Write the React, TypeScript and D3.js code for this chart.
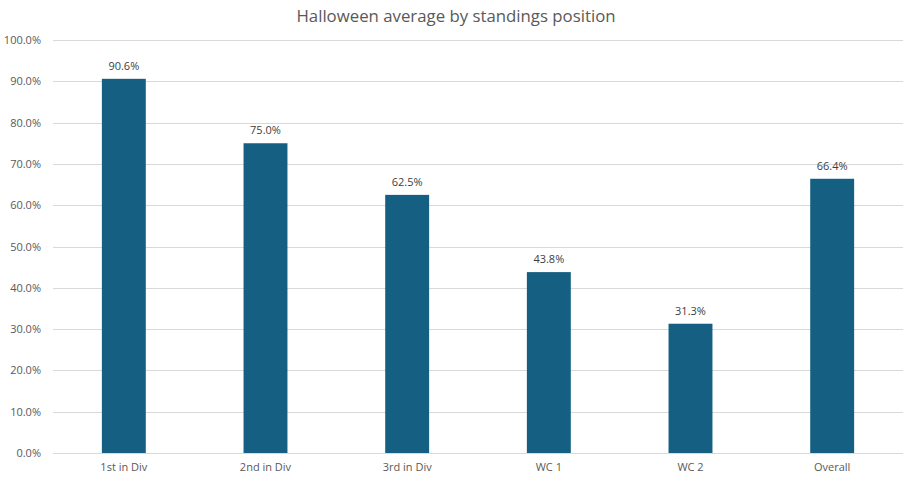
import React from "react";
import * as d3 from "d3";

const categories = ["1st in Div", "2nd in Div", "3rd in Div", "WC 1", "WC 2", "Overall"];
const values = [90.6, 75.0, 62.5, 43.8, 31.3, 66.4];
const yTicks = [0, 10, 20, 30, 40, 50, 60, 70, 80, 90, 100];
const title = "Halloween average by standings position";

const W = 912;
const H = 478;
const M = { left: 53, right: 9, top: 40, bottom: 25 };
const FONT = "'Open Sans', 'Liberation Sans', sans-serif";
const TEXT = "#595959";

export default function App() {
  const x = d3
    .scaleBand<string>()
    .domain(categories)
    .range([M.left, W - M.right])
    .paddingInner(0.69)
    .paddingOuter(0.345);
  const y = d3.scaleLinear().domain([0, 100]).range([H - M.bottom, M.top]);
  const fmt = (v: number) => v.toFixed(1) + "%";

  return (
    <svg
      width={W}
      height={H}
      style={{ position: "absolute", left: 0, top: 0, background: "#fff" }}
      fontFamily={FONT}
    >
      <text x={W / 2} y={22} textAnchor="middle" fontSize={16.8} fill={TEXT}>
        {title}
      </text>
      {yTicks.map((t) => (
        <g key={t}>
          <line
            x1={M.left}
            x2={W - M.right}
            y1={Math.round(y(t)) + 0.5}
            y2={Math.round(y(t)) + 0.5}
            stroke="#d9d9d9"
            strokeWidth={1}
          />
          <text x={41} y={y(t) + 4} textAnchor="end" fontSize={11} fill={TEXT}>
            {fmt(t)}
          </text>
        </g>
      ))}
      {categories.map((c, i) => (
        <g key={c}>
          <rect
            x={x(c)}
            y={y(values[i])}
            width={x.bandwidth()}
            height={y(0) - y(values[i])}
            fill="#156082"
          />
          <text
            x={(x(c) as number) + x.bandwidth() / 2}
            y={y(values[i]) - 9}
            textAnchor="middle"
            fontSize={11}
            fill="#404040"
          >
            {fmt(values[i])}
          </text>
          <text
            x={(x(c) as number) + x.bandwidth() / 2}
            y={H - M.bottom + 18}
            textAnchor="middle"
            fontSize={11}
            fill={TEXT}
          >
            {c}
          </text>
        </g>
      ))}
    </svg>
  );
}
